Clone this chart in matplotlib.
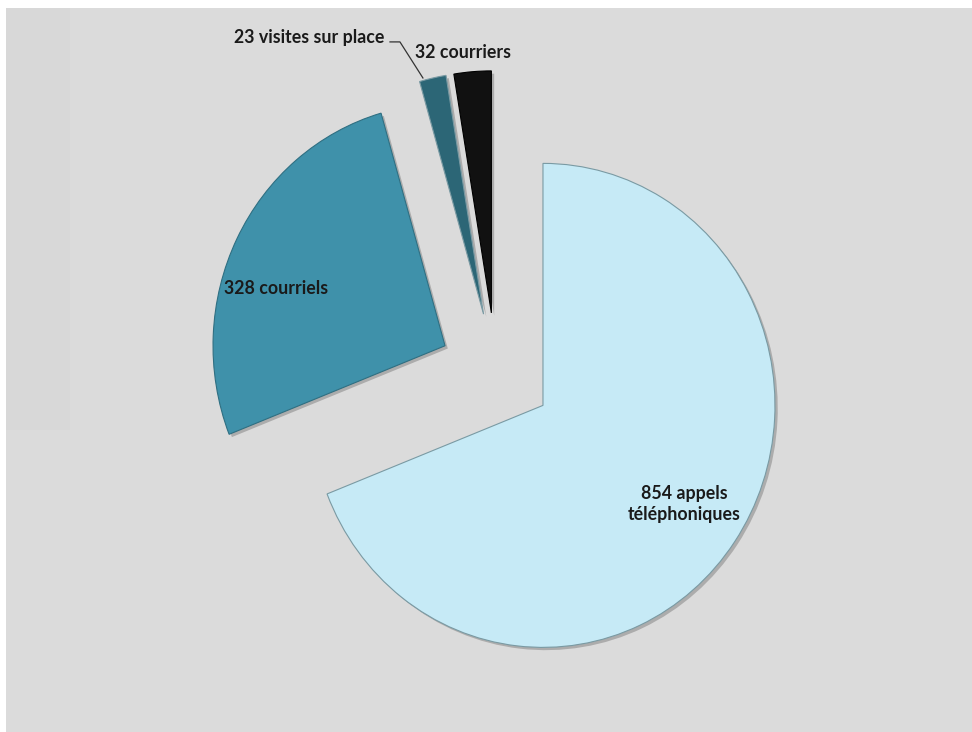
import matplotlib.pyplot as plt
from matplotlib.patches import Rectangle
import matplotlib.patheffects as pe

labels = ['854 appels\ntéléphoniques', '328 courriels', '23 visites sur place', '32 courriers']
values = [854, 328, 23, 32]
colors = ['#c6eaf6', '#3f91aa', '#2c6676', '#111111']

fig = plt.figure(figsize=(9.72, 7.32), dpi=100)
fig.patch.set_facecolor('white')
# grey chart area (white strip on left and top)
fig.patches.append(Rectangle((6/972, 0), 966/972, 724/732, transform=fig.transFigure,
                             facecolor='#dbdbdb', edgecolor='none', zorder=-10))
fig.patches.append(Rectangle((6/972, 302/732), 64/972, 422/732, transform=fig.transFigure,
                             facecolor='#d8d8d8', edgecolor='none', zorder=-9))

ax = fig.add_axes([0, 0, 1, 1])
ax.set_facecolor('none')
wedges, _ = ax.pie(values, colors=colors, startangle=90, counterclock=False,
                   explode=[0.245]*4,
                   wedgeprops=dict(linewidth=0.8, edgecolor='#7a9aa3'))
wedges[1].set_edgecolor('#2f6f82')
wedges[3].set_edgecolor('#000000')
for w in wedges:
    w.set_path_effects([pe.SimplePatchShadow(offset=(2, -2), alpha=0.35, shadow_rgbFace='#555555'),
                        pe.Normal()])

# pie is stretched a bit vertically, like the original
ax.set_aspect('auto')
ax.set_xlim(-496/232, 476/232)
ax.set_ylim(-360/242, 372/242)
ax.axis('off')

font = dict(family=['Lato', 'DejaVu Sans'], fontweight='bold', fontsize=12.8, color='#1a1a1a')
ax.text(0.81, -0.545, labels[0], ha='center', va='center', linespacing=1.3, **font)
ax.text(-0.95, 0.347, labels[1], ha='center', va='center', **font)
ax.text(-0.483, 1.384, labels[2], ha='right', va='center', **font)
ax.text(-0.142, 1.322, labels[3], ha='center', va='center', **font)
ax.plot([-0.457, -0.414, -0.315], [1.364, 1.364, 1.215], color='#333333', lw=0.9)

plt.savefig('out.png', dpi=100)
